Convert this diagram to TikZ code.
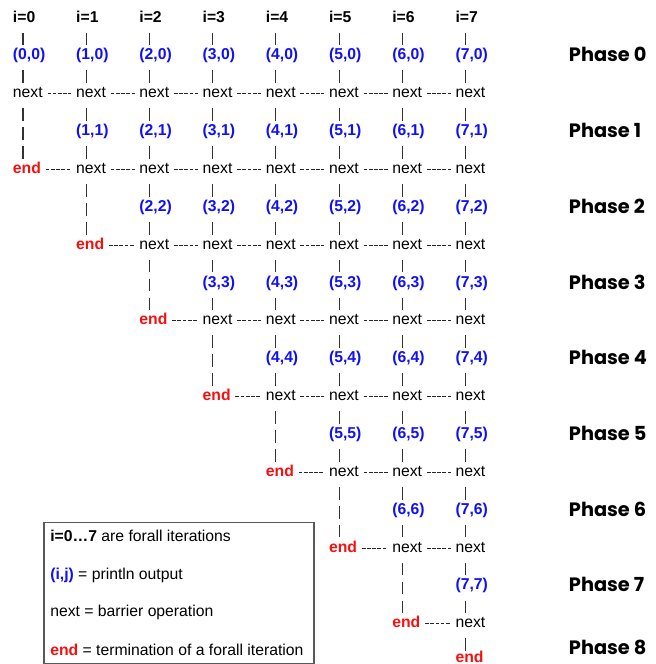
\documentclass[tikz,border=0pt]{standalone}
\usepackage{fontspec}
\setmainfont{Liberation Sans}
\newfontfamily\phasefont{Poppins}
\usepackage{tikz}
\usetikzlibrary{positioning}
\definecolor{printblue}{RGB}{16,16,245}
\definecolor{endred}{RGB}{245,16,16}
\tikzset{
	txt/.style={inner sep=0pt, anchor=west, text height=8.5pt, text depth=2.5pt, font=\fontsize{11.8pt}{14pt}\selectfont},
	iter/.style={txt, font=\fontsize{11.8pt}{14pt}\selectfont\bfseries},
	prt/.style={iter, text=printblue},
	fin/.style={iter, text=endred},
	bar/.style={draw=black!80, line width=0.8pt, shorten <=6pt, shorten >=6pt, dash pattern=on 9.5pt off 4.7pt, dash phase=10.75pt, transform canvas={xshift=7.7pt, yshift=-1.5pt}},
	dashes/.style={draw=black!85, line width=0.8pt, shorten <=3.4pt, shorten >=3.4pt, dash pattern=on 2.8pt off 1.1pt},
	phase/.style={inner sep=0pt, anchor=west, font=\phasefont\fontsize{14.5pt}{16pt}\selectfont\bfseries},
	legend/.style={draw=black!65, line width=1pt, inner sep=0pt, anchor=north west, minimum width=202.5pt, minimum height=105.5pt}
}
\begin{document}
\begin{tikzpicture}[x=0.75pt, y=-0.75pt]
	\useasboundingbox (0,0) rectangle (656,664);
	% iterations, println output and barriers
	\foreach \i in {0,...,7} {
		\node[iter] (h\i) at ({12.7+63.23*\i}, 18) {i=\i};
		\foreach \j in {0,...,\i} {
			\node[prt] (p\i\j) at ({12.7+63.23*\i}, {18+18.93*(4*\j+2)}) {(\i,\j)};
			\node[txt] (n\i\j) at ({12.7+63.23*\i}, {18+18.93*(4*\j+4)}) {next};
		}
	}
	\foreach \i in {0,...,6}
		\node[fin] (e\i) at ({12.7+63.23*\i}, {18+18.93*(4*\i+8)}) {end};
	\node[fin] (e7) at ({12.7+63.23*7}, 658) {end};
	% vertical bars
	\foreach \i in {0,...,7} {
		\draw[bar] (h\i.west) -- (p\i0.west);
		\draw[bar] (n\i\i.west) -- (e\i.west);
		\foreach \j in {0,...,\i}
			\draw[bar] (p\i\j.west) -- (n\i\j.west);
	}
	\foreach \i in {1,...,7}
		\foreach \j in {1,...,\i} {
			\pgfmathtruncatemacro\k{\j-1}
			\draw[bar] (n\i\k.west) -- (p\i\j.west);
		}
	% barrier rows
	\foreach \r in {0,...,6}
		\foreach \c in {\r,...,6} {
			\pgfmathtruncatemacro\cc{\c+1}
			\draw[dashes] (n\c\r.east) -- (n\cc\r.west);
		}
	\foreach \r in {1,...,7} {
		\pgfmathtruncatemacro\q{\r-1}
		\draw[dashes] (e\q.east) -- (n\r\r.west);
	}
	% phases
	\foreach \k in {0,...,7}
		\node[phase] (ph\k) at (568.7, {17+18.93*(4*\k+2)}) {Phase \k};
	\node[phase] (ph8) at (568.7, 647) {Phase 8};
	% legend
	\node[legend] (legend) at (43.3, 522) {};
	\node[txt] (l1) at (50, 537) {\textbf{i=0…7} are forall iterations};
	\node[txt] (l2) at (50, 575) {\textbf{\color{printblue}(i,j)} = println output};
	\node[txt] (l3) at (50, 612) {next = barrier operation};
	\node[txt] (l4) at (50, 651) {\textbf{\color{endred}end} = termination of a forall iteration};
\end{tikzpicture}
\end{document}
